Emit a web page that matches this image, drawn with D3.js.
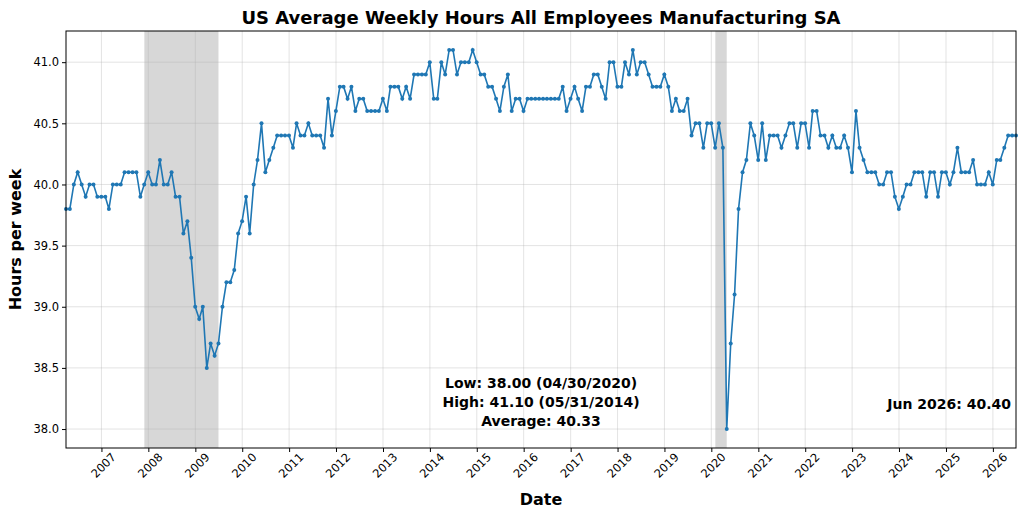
<!DOCTYPE html>
<html>
<head>
<meta charset="utf-8">
<script src="https://cdn.jsdelivr.net/npm/d3@7"></script>
<style>
  body { margin: 0; background: #fff; }
  text { font-family: "DejaVu Sans", sans-serif; }
</style>
</head>
<body>
<svg id="chart" width="1024" height="518"></svg>
<script>
// monthly values, first month Mar 2006, last Jun 2026 (month-end dates)
var startMonth = [2006, 2]; // year, zero-based month
var hours = [
  39.8,39.8,40.0,40.1,40.0,39.9,40.0,40.0,39.9,39.9,            // 2006 Mar-Dec
  39.9,39.8,40.0,40.0,40.0,40.1,40.1,40.1,40.1,39.9,40.0,40.1,  // 2007
  40.0,40.0,40.2,40.0,40.0,40.1,39.9,39.9,39.6,39.7,39.4,39.0,  // 2008
  38.9,39.0,38.5,38.7,38.6,38.7,39.0,39.2,39.2,39.3,39.6,39.7,  // 2009
  39.9,39.6,40.0,40.2,40.5,40.1,40.2,40.3,40.4,40.4,40.4,40.4,  // 2010
  40.3,40.5,40.4,40.4,40.5,40.4,40.4,40.4,40.3,40.7,40.4,40.6,  // 2011
  40.8,40.8,40.7,40.8,40.6,40.7,40.7,40.6,40.6,40.6,40.6,40.7,  // 2012
  40.6,40.8,40.8,40.8,40.7,40.8,40.7,40.9,40.9,40.9,40.9,41.0,  // 2013
  40.7,40.7,41.0,40.9,41.1,41.1,40.9,41.0,41.0,41.0,41.1,41.0,  // 2014
  40.9,40.9,40.8,40.8,40.7,40.6,40.8,40.9,40.6,40.7,40.7,40.6,  // 2015
  40.7,40.7,40.7,40.7,40.7,40.7,40.7,40.7,40.7,40.8,40.6,40.7,  // 2016
  40.8,40.7,40.6,40.8,40.8,40.9,40.9,40.8,40.7,41.0,41.0,40.8,  // 2017
  40.8,41.0,40.9,41.1,40.9,41.0,41.0,40.9,40.8,40.8,40.8,40.9,  // 2018
  40.8,40.6,40.7,40.6,40.6,40.7,40.4,40.5,40.5,40.3,40.5,40.5,  // 2019
  40.3,40.5,40.3,38.0,38.7,39.1,39.8,40.1,40.2,40.5,40.4,40.2,  // 2020
  40.5,40.2,40.4,40.4,40.4,40.3,40.4,40.5,40.5,40.3,40.5,40.5,  // 2021
  40.3,40.6,40.6,40.4,40.4,40.3,40.4,40.3,40.3,40.4,40.3,40.1,  // 2022
  40.6,40.3,40.2,40.1,40.1,40.1,40.0,40.0,40.1,40.1,39.9,39.8,  // 2023
  39.9,40.0,40.0,40.1,40.1,40.1,39.9,40.1,40.1,39.9,40.1,40.1,  // 2024
  40.0,40.1,40.3,40.1,40.1,40.1,40.2,40.0,40.0,40.0,40.1,40.0,  // 2025
  40.2,40.2,40.3,40.4,40.4,40.4                                 // 2026 Jan-Jun
];
var recessions = [["2007-12-01", "2009-06-30"], ["2020-02-01", "2020-04-30"]];
var yTicks = [38.0, 38.5, 39.0, 39.5, 40.0, 40.5, 41.0];
var statLines = ["Low: 38.00 (04/30/2020)", "High: 41.10 (05/31/2014)", "Average: 40.33"];
var lastLabel = "Jun 2026: 40.40";

var data = hours.map(function(v, i) {
    // last day of month
    return { date: new Date(startMonth[0], startMonth[1] + i + 1, 0), value: v };
});

var svg = d3.select("#chart");
var margin = { left: 66, right: 8, top: 31, bottom: 70 };
var W = 1024, H = 518;
var iw = W - margin.left - margin.right, ih = H - margin.top - margin.bottom;

var x = d3.scaleTime()
    .domain(d3.extent(data, function(d){ return d.date; }))
    .range([margin.left, margin.left + iw]);
var y = d3.scaleLinear()
    .domain([37.845, 41.255])
    .range([margin.top + ih, margin.top]);

var parse = d3.timeParse("%Y-%m-%d");

// shaded recessions
svg.selectAll("rect.rec").data(recessions).enter().append("rect")
    .attr("x", function(d){ return x(parse(d[0])); })
    .attr("width", function(d){ return x(parse(d[1])) - x(parse(d[0])); })
    .attr("y", margin.top).attr("height", ih)
    .attr("fill", "#bdbdbd").attr("opacity", 0.6);

// grid
var years = d3.range(2007, 2027).map(function(yr){ return new Date(yr, 0, 1); });
svg.append("g").selectAll("line").data(years).enter().append("line")
    .attr("x1", function(d){ return x(d); }).attr("x2", function(d){ return x(d); })
    .attr("y1", margin.top).attr("y2", margin.top + ih)
    .attr("stroke", "#b0b0b0").attr("stroke-opacity", 0.45).attr("stroke-width", 0.8);
svg.append("g").selectAll("line").data(yTicks).enter().append("line")
    .attr("x1", margin.left).attr("x2", margin.left + iw)
    .attr("y1", function(d){ return y(d); }).attr("y2", function(d){ return y(d); })
    .attr("stroke", "#b0b0b0").attr("stroke-opacity", 0.45).attr("stroke-width", 0.8);

// line + markers
var line = d3.line().x(function(d){ return x(d.date); }).y(function(d){ return y(d.value); });
svg.append("path").datum(data).attr("d", line)
    .attr("fill", "none").attr("stroke", "#1f77b4").attr("stroke-width", 1.6);
svg.append("g").selectAll("circle").data(data).enter().append("circle")
    .attr("cx", function(d){ return x(d.date); }).attr("cy", function(d){ return y(d.value); })
    .attr("r", 2).attr("fill", "#1f77b4");

// frame
svg.append("rect").attr("x", margin.left).attr("y", margin.top)
    .attr("width", iw).attr("height", ih)
    .attr("fill", "none").attr("stroke", "#000").attr("stroke-width", 1);

// axes
var xAxis = svg.append("g").attr("transform", "translate(0," + (margin.top + ih) + ")")
    .call(d3.axisBottom(x).tickValues(years).tickFormat(d3.timeFormat("%Y")).tickSize(4));
xAxis.select(".domain").remove();
xAxis.selectAll("text")
    .attr("font-size", 11.5).attr("text-anchor", "end")
    .attr("dx", "0.3em").attr("dy", "0.9em")
    .attr("transform", "rotate(-45)");

var yAxis = svg.append("g").attr("transform", "translate(" + margin.left + ",0)")
    .call(d3.axisLeft(y).tickValues(yTicks).tickFormat(d3.format(".1f")).tickSize(4));
yAxis.select(".domain").remove();
yAxis.selectAll("text").attr("font-size", 11.5);

// titles
svg.append("text").attr("x", margin.left + iw / 2).attr("y", 24)
    .attr("text-anchor", "middle").attr("font-size", 18).attr("font-weight", "bold")
    .text("US Average Weekly Hours All Employees Manufacturing SA");
svg.append("text").attr("x", margin.left + iw / 2).attr("y", 505)
    .attr("text-anchor", "middle").attr("font-size", 16).attr("font-weight", "bold")
    .text("Date");
svg.append("text").attr("transform", "translate(21," + (margin.top + ih / 2) + ") rotate(-90)")
    .attr("text-anchor", "middle").attr("font-size", 16).attr("font-weight", "bold")
    .text("Hours per week");

// stats annotation
svg.append("g").selectAll("text").data(statLines).enter().append("text")
    .attr("x", 541).attr("y", function(d, i){ return 388 + i * 19; })
    .attr("text-anchor", "middle").attr("font-size", 14).attr("font-weight", "bold")
    .text(function(d){ return d; });
svg.append("text").attr("x", 1011).attr("y", 409)
    .attr("text-anchor", "end").attr("font-size", 14).attr("font-weight", "bold")
    .text(lastLabel);
</script>
</body>
</html>
